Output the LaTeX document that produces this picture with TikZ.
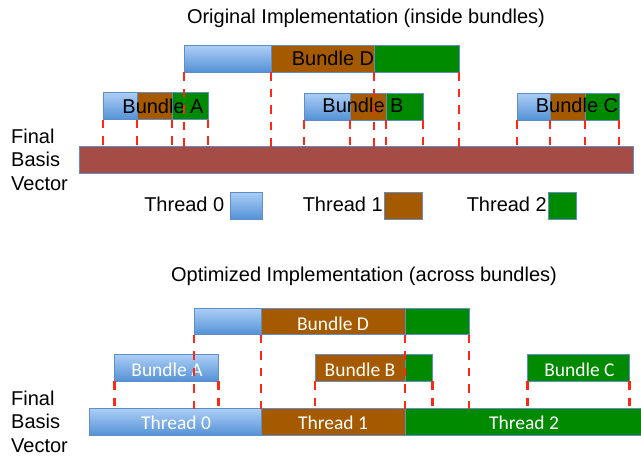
\documentclass[tikz,border=0pt]{standalone}
\usepackage{fontspec}
\setmainfont{Liberation Sans}
\newfontfamily\carlito{Carlito}
\definecolor{tblueA}{RGB}{172,206,246}
\definecolor{tblueB}{RGB}{84,146,214}
\definecolor{tbord}{RGB}{96,140,200}
\definecolor{tbrown}{RGB}{166,90,0}
\definecolor{tgreen}{RGB}{0,138,0}
\definecolor{tbar}{RGB}{165,76,70}
\definecolor{tred}{RGB}{255,40,20}
\begin{document}
\begin{tikzpicture}[x=1pt,y=-1pt,
  seg/.style={draw=tbord, line width=0.7pt, inner sep=0pt, outer sep=0pt, anchor=north west},
  bl/.style={seg, top color=tblueA, bottom color=tblueB},
  br/.style={seg, fill=tbrown},
  gr/.style={seg, fill=tgreen},
  rb/.style={seg, fill=tbar},
  blk/.style={anchor=base, inner sep=0pt, font=\fontsize{20}{24}\selectfont, text=black},
  wht/.style={anchor=base, inner sep=0pt, font=\carlito\fontsize{19.5}{23}\selectfont, text=white},
  guide/.style={draw=tred, line width=2.2pt, dash pattern=on 8.5pt off 8pt}
]
\useasboundingbox (0,0) rectangle (641,456);

% ---------------- top section ----------------
\node[blk] (t1) at (366,23) {Original Implementation (inside bundles)};

\node[rb, minimum width=554, minimum height=26.5] (barT) at (79,146.5) {};

\node[bl, minimum width=87, minimum height=26.5] (Dt0) at (184,45.5) {};
\node[br, minimum width=103, minimum height=26.5] (Dt1) at (271,45.5) {};
\node[gr, minimum width=85, minimum height=26.5] (Dt2) at (374,45.5) {};

\node[bl, minimum width=34, minimum height=27] (At0) at (103,92.5) {};
\node[br, minimum width=35, minimum height=27] (At1) at (137,92.5) {};
\node[gr, minimum width=36, minimum height=27] (At2) at (172,92.5) {};

\node[bl, minimum width=46, minimum height=27] (Bt0) at (304,93) {};
\node[br, minimum width=36, minimum height=27] (Bt1) at (350,93) {};
\node[gr, minimum width=37, minimum height=27] (Bt2) at (386,93) {};

\node[bl, minimum width=33, minimum height=27] (Ct0) at (517,93) {};
\node[br, minimum width=35, minimum height=27] (Ct1) at (550,93) {};
\node[gr, minimum width=34, minimum height=27] (Ct2) at (585,93) {};

\node[blk] (lD) at (333,65) {Bundle D};
\node[blk] (lA) at (163,113) {Bundle A};
\node[blk] (lB) at (363,112.5) {Bundle B};
\node[blk] (lC) at (577,112.5) {Bundle C};

\node[anchor=north west, inner sep=0pt, align=left, font=\fontsize{20}{23.8}\selectfont] (fbT) at (11,128.5) {Final\\Basis\\Vector};

\node[bl, minimum width=32, minimum height=27] (k0) at (230,192) {};
\node[br, minimum width=38, minimum height=27] (k1) at (384,192) {};
\node[gr, minimum width=28, minimum height=27] (k2) at (548,192) {};
\node[blk, anchor=base east] (kt0) at (224.5,211) {Thread 0};
\node[blk, anchor=base east] (kt1) at (383,211) {Thread 1};
\node[blk, anchor=base east] (kt2) at (547,211) {Thread 2};

\foreach \n in {Dt0.south west, Dt1.south west, Dt2.south west, Dt2.south east,
                At0.south west, At1.south west, At2.south west, At2.south east,
                Bt0.south west, Bt1.south west, Bt2.south west, Bt2.south east,
                Ct0.south west, Ct1.south west, Ct2.south west, Ct2.south east}
  \draw[guide] (\n) -- (\n |- barT.north);

% ---------------- bottom section ----------------
\node[blk] (t2) at (364,281.5) {Optimized Implementation (across bundles)};

\node[bl, minimum width=172, minimum height=27] (Fb0) at (89,408.5) {};
\node[br, minimum width=144, minimum height=27] (Fb1) at (261,408.5) {};
\node[gr, minimum width=237, minimum height=27] (Fb2) at (405,408.5) {};

\node[bl, minimum width=67, minimum height=26] (Db0) at (194,308.5) {};
\node[br, minimum width=144, minimum height=26] (Db1) at (261,308.5) {};
\node[gr, minimum width=64, minimum height=26] (Db2) at (405,308.5) {};

\node[bl, minimum width=104, minimum height=26.5] (Ab0) at (114.5,354.5) {};
\node[br, minimum width=90, minimum height=26.5] (Bb1) at (315,354.5) {};
\node[gr, minimum width=27.5, minimum height=26.5] (Bb2) at (405,354.5) {};
\node[gr, minimum width=102, minimum height=26.5] (Cb2) at (527.5,354.5) {};

\node[wht] (mD) at (333,330) {Bundle D};
\node[wht] (mA) at (167,376) {Bundle A};
\node[wht] (mB) at (360,376) {Bundle B};
\node[wht] (mC) at (579.5,376) {Bundle C};
\node[wht] (m0) at (176,429.5) {Thread 0};
\node[wht] (m1) at (333,429.5) {Thread 1};
\node[wht] (m2) at (524,429.5) {Thread 2};

\node[anchor=north west, inner sep=0pt, align=left, font=\fontsize{20}{23.8}\selectfont] (fbB) at (11,390.5) {Final\\Basis\\Vector};

\foreach \n in {Db0.south west, Db1.south west, Db2.south west, Db2.south east,
                Ab0.south west, Ab0.south east,
                Bb1.south west, Bb2.south east,
                Cb2.south west, Cb2.south east}
  \draw[guide] (\n) -- (\n |- Fb0.north);
\end{tikzpicture}
\end{document}
